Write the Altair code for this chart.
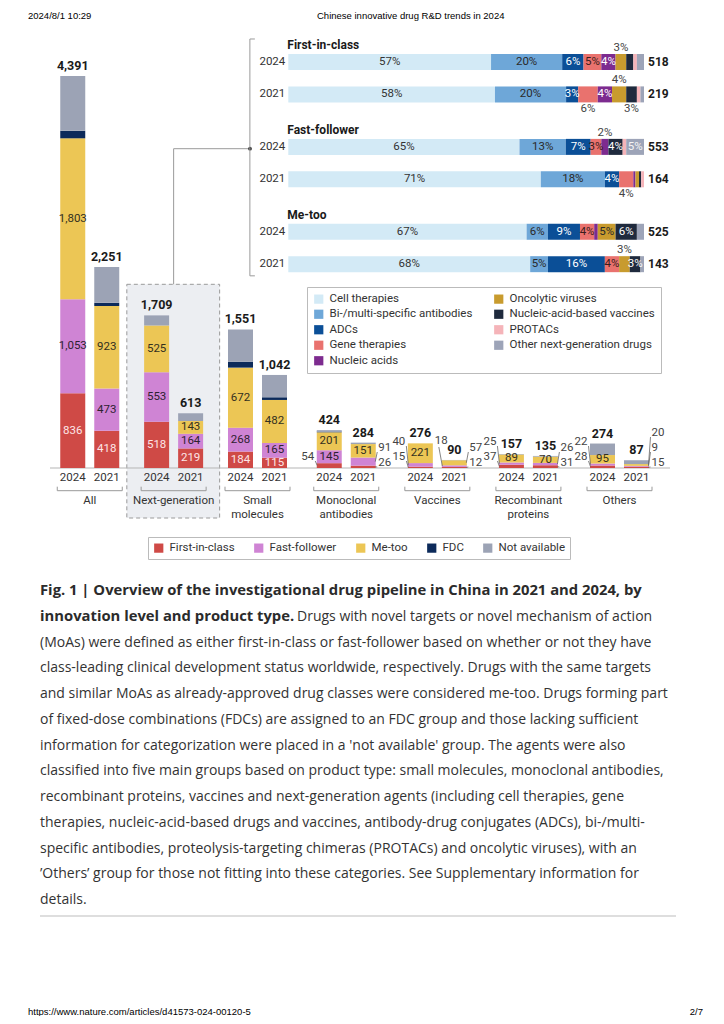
import altair as alt
import pandas as pd

FONT = "Roboto"
CAP_FONT = "Open Sans"
HDR_FONT = "Liberation Sans"

# ---------------- data: left stacked bars ----------------
groups = ["All", "Next-generation", "Small molecules", "Monoclonal antibodies",
          "Vaccines", "Recombinant proteins", "Others"]
group_lines = [["All"], ["Next-generation"], ["Small", "molecules"], ["Monoclonal", "antibodies"],
               ["Vaccines"], ["Recombinant", "proteins"], ["Others"]]
years = ["2024", "2021"]
levels = ["First-in-class", "Fast-follower", "Me-too", "FDC", "Not available"]
level_colors = ["#cf4a46", "#cf84d4", "#ecc655", "#0c2a5a", "#9ca3b5"]
level_text = ["#fde6e6", "#2e2230", "#33301f"]

# bar order: All 2024, All 2021, Next-gen 2024, Next-gen 2021, ...
first_in_class = [836, 418, 518, 219, 184, 115, 54, 26, 15, 12, 37, 31, 28, 15]
fast_follower = [1053, 473, 553, 164, 268, 165, 145, 91, 40, 18, 25, 26, 22, 9]
me_too = [1803, 923, 525, 143, 672, 482, 201, 151, 221, 57, 89, 70, 95, 20]
fdc = [84, 36, 0, 0, 65, 30, 8, 0, 0, 0, 0, 0, 0, 0]
not_available = [615, 401, 113, 87, 362, 250, 16, 16, 0, 3, 6, 8, 129, 43]
totals = [4391, 2251, 1709, 613, 1551, 1042, 424, 284, 276, 90, 157, 135, 274, 87]

# small values written outside the bar: (bar, level index, side, tier)
callouts = [
    (6, 0, "left", 0),
    (7, 0, "right", 0), (7, 1, "right", 1),
    (8, 0, "left", 0), (8, 1, "left", 1),
    (9, 0, "right", 0), (9, 2, "right", 1), (9, 1, "top", 1),
    (10, 0, "left", 0), (10, 1, "left", 1),
    (11, 0, "right", 0), (11, 1, "right", 1),
    (12, 0, "left", 0), (12, 1, "left", 1),
    (13, 0, "right", 0), (13, 1, "right", 1), (13, 2, "right", 2),
]

# ---------------- data: next-generation modality shares ----------------
ng_levels = ["First-in-class", "Fast-follower", "Me-too"]
ng_totals = [518, 219, 553, 164, 525, 143]
modalities = ["Cell therapies", "Bi-/multi-specific antibodies", "ADCs", "Gene therapies",
              "Nucleic acids", "Oncolytic viruses", "Nucleic-acid-based vaccines", "PROTACs",
              "Other next-generation drugs"]
modality_colors = ["#d3eaf6", "#6ea7d8", "#0b4f97", "#e9726e", "#7d2b8f",
                   "#c89b2e", "#1f2a3d", "#f5b4b9", "#9da4b8"]
modality_text = ["#333333", "#2a2a2a", "#ffffff", "#3a1c1c", "#ffffff",
                 "#2a2a2a", "#ffffff", "#333333", "#f4f4f4"]
pct_rows = [
    [57, 20, 6, 5, 4, 3, 2, 1, 2],          # First-in-class 2024
    [58.1, 20, 3.4, 5.5, 4, 4, 3, 1, 1],    # First-in-class 2021
    [65, 13, 7, 3, 2, 0, 4, 1, 5],          # Fast-follower 2024
    [71, 18, 4, 4, 0.6, 1, 0.6, 0.8, 0],    # Fast-follower 2021
    [67, 6, 9, 4, 1, 5, 6, 0, 2],           # Me-too 2024
    [68, 5, 16, 4, 0, 3, 3, 0, 1],          # Me-too 2021
]
# label placement per segment: i inside, a above, b below, - none
pct_labels = ["iiiiia---", "iiibiab--", "iiiia-i-i", "iiib-----", "iiii-ii--", "iiii-ai--"]

caption_bold = ["Fig. 1 | Overview of the investigational drug pipeline in China in 2021 and 2024, by",
                "innovation level and product type."]
caption_rest_line2 = "Drugs with novel targets or novel mechanism of action"
caption_lines = [
    "(MoAs) were defined as either first-in-class or fast-follower based on whether or not they have",
    "class-leading clinical development status worldwide, respectively. Drugs with the same targets",
    "and similar MoAs as already-approved drug classes were considered me-too. Drugs forming part",
    "of fixed-dose combinations (FDCs) are assigned to an FDC group and those lacking sufficient",
    "information for categorization were placed in a 'not available' group. The agents were also",
    "classified into five main groups based on product type: small molecules, monoclonal antibodies,",
    "recombinant proteins, vaccines and next-generation agents (including cell therapies, gene",
    "therapies, nucleic-acid-based drugs and vaccines, antibody-drug conjugates (ADCs), bi-/multi-",
    "specific antibodies, proteolysis-targeting chimeras (PROTACs) and oncolytic viruses), with an",
    "\u2019Others\u2019 group for those not fitting into these categories. See Supplementary information for",
    "details.",
]
header_left = "2024/8/1 10:29"
header_title = "Chinese innovative drug R&D trends in 2024"
footer_left = "https://www.nature.com/articles/d41573-024-00120-5"
footer_right = "2/7"

# ---------------- scales (pixel ranges) ----------------
LXD = [0, 2, 3, 6]                      # piecewise group-index domain
LXR = [81.75, 249.5, 338.25, 611.5]     # matching pixel range
LX = alt.Scale(domain=LXD, range=LXR, nice=False, zero=False)
LY = alt.Scale(domain=[0, 5000], range=[460, 13.5], nice=False, zero=False)
RX = alt.Scale(domain=[0, 100], range=[280.3, 636], nice=False, zero=False)
RY = alt.Scale(domain=[0, 1], range=[54, 86.4], nice=False, zero=False)
CY = alt.Scale(domain=[0, 12], range=[583, 892], nice=False, zero=False)

PXV = (460 - 13.5) / 5000     # px per drug count
HALF_PX = 12.5
OFF_PX = 17
GSTEP = 2.62                  # row units between sections (right panel)
RH = 0.247                    # half bar height in row units


def _interp(v, xs, ys):
    # piecewise linear with extrapolation on the end pieces (like the scale)
    for i in range(len(xs) - 1):
        if v <= xs[i + 1] or i == len(xs) - 2:
            if v >= xs[i] or i == 0:
                t = (v - xs[i]) / (xs[i + 1] - xs[i])
                return ys[i] + t * (ys[i + 1] - ys[i])
    return ys[-1]


def gpx(g):       # group units -> px
    return _interp(g, LXD, LXR)


def gu(p):        # px -> group units
    return _interp(p, LXR, LXD)


def px(v):        # pixels -> count units
    return v / PXV


# ---------------- build left tables ----------------
seg = []
bar_px = {}
for gi in range(len(groups)):
    for yi in range(2):
        b = 2 * gi + yi
        cp = gpx(gi) + (-OFF_PX if yi == 0 else OFF_PX)
        bar_px[b] = cp
        vals = [first_in_class[b], fast_follower[b], me_too[b], fdc[b], not_available[b]]
        cum = 0
        for li, v in enumerate(vals):
            if v > 0:
                seg.append(dict(b=b, li=li, level=levels[li], v=v, x0=gu(cp - HALF_PX),
                                x1=gu(cp + HALF_PX), xc=gu(cp), y0=cum, y1=cum + v,
                                ym=cum + v / 2))
            cum += v
seg = pd.DataFrame(seg)

co_keys = {(b, li) for b, li, _, _ in callouts}
inside = seg[(seg.li <= 2) & [(b, li) not in co_keys for b, li in zip(seg.b, seg.li)]].copy()
inside["label"] = [f"{v:,}" for v in inside.v]
inside["tc"] = [level_text[li] for li in inside.li]

co_rows, lead_rows = [], []
for b, li, side, tier in callouts:
    r = seg[(seg.b == b) & (seg.li == li)].iloc[0]
    left_px, right_px = bar_px[b] - HALF_PX, bar_px[b] + HALF_PX
    if side == "left":
        ly = px(11 + 15 * tier)
        lx = gu(left_px - 2.5)
        lead_rows.append(dict(xa=gu(left_px - 1.5), ya=ly - px(4), xb=gu(left_px + 0.5), yb=r.ym))
    elif side == "top":
        ly = px(12 + 15 * tier)
        lx = gu(left_px - 7)
        lead_rows.append(dict(xa=gu(left_px - 3), ya=ly - px(6), xb=gu(left_px + 0.5), yb=r.ym))
    else:
        ly = px(5 + 15 * tier)
        lx = gu(right_px + 2.5)
        lead_rows.append(dict(xa=gu(right_px - 0.5), ya=r.ym, xb=gu(right_px + 1.5), yb=ly - px(4)))
    co_rows.append(dict(side=side, x=lx, y=ly, label=f"{r.v:,}"))
co = pd.DataFrame(co_rows)
leads = pd.DataFrame(lead_rows)

bars = []
for gi in range(len(groups)):
    for yi in range(2):
        b = 2 * gi + yi
        bars.append(dict(xc=gu(bar_px[b]), total=totals[b],
                         tlabel=f"{totals[b]:,}", year=years[yi], ypos=px(-9.7)))
bars = pd.DataFrame(bars)

glab = []
for gi, lines in enumerate(group_lines):
    for k, t in enumerate(lines):
        glab.append(dict(x=gi, y=px(-32.7 - 14.3 * k), text=t))
glab = pd.DataFrame(glab)

brk_h = pd.DataFrame([dict(xa=gu(gpx(gi) - 32.5), xb=gu(gpx(gi) + 32.5), ya=px(-22.7), yb=px(-22.7))
                      for gi in range(len(groups))])
brk_v = pd.DataFrame([dict(xa=gu(gpx(gi) + s * 32.5), xb=gu(gpx(gi) + s * 32.5),
                           ya=px(-22.7), yb=px(-18.7))
                      for gi in range(len(groups)) for s in (-1, 1)])

ngi = groups.index("Next-generation")
hl = pd.DataFrame([dict(x0=gu(gpx(ngi) - 46.8), x1=gu(gpx(ngi) + 46.0), y0=px(-50), y1=px(183.7))])
conn = pd.DataFrame([
    dict(xa=ngi, xb=ngi, ya=px(183.7), yb=px(319.3)),
    dict(xa=ngi, xb=gu(242), ya=px(319.3), yb=px(319.3)),
])
dot = pd.DataFrame([dict(x=gu(242), y=px(319.3))])
base = pd.DataFrame([dict(xa=gu(42), xb=gu(662), y=0)])

# ---------------- build right tables ----------------
hseg, hlab = [], []
for ri, row in enumerate(pct_rows):
    gi, yi = ri // 2, ri % 2
    r = gi * GSTEP + yi
    cum = 0
    for mi, p in enumerate(row):
        if p > 0:
            hseg.append(dict(modality=modalities[mi], x0=cum, x1=cum + p, ya=r - RH, yb=r + RH))
            kind = pct_labels[ri][mi]
            if kind != "-":
                yy = r if kind == "i" else (r - 0.43 if kind == "a" else r + 0.45)
                tc = modality_text[mi] if kind == "i" else "#444444"
                hlab.append(dict(x=cum + p / 2, y=yy, label=f"{round(p)}%", tc=tc))
        cum += p
hseg = pd.DataFrame(hseg)
hlab = pd.DataFrame(hlab)

rows_meta = pd.DataFrame([dict(r=(ri // 2) * GSTEP + ri % 2, year=years[ri % 2],
                               total=str(ng_totals[ri]), x0=0, x1=100)
                          for ri in range(6)])
sect = pd.DataFrame([dict(r=gi * GSTEP - 0.53, text=t, x=0) for gi, t in enumerate(ng_levels)])
rbr = pd.DataFrame([
    dict(xa=-10.8, xb=-10.8, ya=-0.71, yb=6.6),
    dict(xa=-10.8, xb=-9.4, ya=-0.71, yb=-0.71),
    dict(xa=-10.8, xb=-9.4, ya=6.6, yb=6.6),
])

cap_b = pd.DataFrame([dict(line=i, text=t) for i, t in enumerate(caption_bold)])
cap_r2 = pd.DataFrame([dict(line=1, text=caption_rest_line2)])
cap_n = pd.DataFrame([dict(line=i + 2, text=t) for i, t in enumerate(caption_lines)])

# ---------------- layers ----------------
def X(f, s):
    return alt.X(f, type="quantitative", scale=s, axis=None)


def Y(f, s):
    return alt.Y(f, type="quantitative", scale=s, axis=None)


layers = []

layers.append(alt.Chart(hl).mark_rect(fill="#eceef2", stroke="#9a9a9a", strokeDash=[4, 3],
                                      strokeWidth=1).encode(
    x=X("x0", LX), x2="x1", y=Y("y0", LY), y2="y1"))
layers.append(alt.Chart(conn).mark_rule(color="#9a9a9a", strokeWidth=1).encode(
    x=X("xa", LX), x2="xb", y=Y("ya", LY), y2="yb"))
layers.append(alt.Chart(dot).mark_circle(size=14, color="#333333", opacity=1).encode(
    x=X("x", LX), y=Y("y", LY)))
layers.append(alt.Chart(base).mark_rule(color="#b5b5b5", strokeWidth=1).encode(
    x=X("xa", LX), x2="xb", y=Y("y", LY)))

layers.append(alt.Chart(seg).mark_rect().encode(
    x=X("x0", LX), x2="x1", y=Y("y0", LY), y2="y1",
    color=alt.Color("level:N", scale=alt.Scale(domain=levels, range=level_colors),
                    legend=alt.Legend(title=None, orient="none", legendX=140, legendY=529,
                                      direction="horizontal", columns=5, symbolType="square",
                                      symbolSize=85, symbolStrokeWidth=0, labelFont=FONT,
                                      labelFontSize=11.5, labelColor="#333333", labelOffset=5,
                                      columnPadding=18, padding=5, strokeColor="#bbbbbb",
                                      labelLimit=200))))

layers.append(alt.Chart(inside).mark_text(font=FONT, fontSize=11.5, baseline="middle").encode(
    x=X("xc", LX), y=Y("ym", LY), text="label:N", color=alt.Color("tc:N", scale=None)))
layers.append(alt.Chart(leads).mark_rule(color="#666666", strokeWidth=0.8).encode(
    x=X("xa", LX), x2="xb", y=Y("ya", LY), y2="yb"))
layers.append(alt.Chart(co[co.side == "left"]).mark_text(
    font=FONT, fontSize=11.5, align="right", baseline="middle", color="#444444").encode(
    x=X("x", LX), y=Y("y", LY), text="label:N"))
layers.append(alt.Chart(co[co.side != "left"]).mark_text(
    font=FONT, fontSize=11.5, align="left", baseline="middle", color="#444444").encode(
    x=X("x", LX), y=Y("y", LY), text="label:N"))
layers.append(alt.Chart(bars).mark_text(font=FONT, fontSize=12.5, fontWeight="bold",
                                        baseline="bottom", dy=-3, color="#1a1a1a").encode(
    x=X("xc", LX), y=Y("total", LY), text="tlabel:N"))
layers.append(alt.Chart(bars).mark_text(font=FONT, fontSize=11.5, baseline="middle",
                                        color="#333333").encode(
    x=X("xc", LX), y=Y("ypos", LY), text="year:N"))
layers.append(alt.Chart(brk_h).mark_rule(color="#999999", strokeWidth=1).encode(
    x=X("xa", LX), x2="xb", y=Y("ya", LY), y2="yb"))
layers.append(alt.Chart(brk_v).mark_rule(color="#999999", strokeWidth=1).encode(
    x=X("xa", LX), x2="xb", y=Y("ya", LY), y2="yb"))
layers.append(alt.Chart(glab).mark_text(font=FONT, fontSize=11.5, baseline="middle",
                                        color="#333333").encode(
    x=X("x", LX), y=Y("y", LY), text="text:N"))

# right panel
layers.append(alt.Chart(rbr).mark_rule(color="#9a9a9a", strokeWidth=1).encode(
    x=X("xa", RX), x2="xb", y=Y("ya", RY), y2="yb"))
layers.append(alt.Chart(hseg).mark_rect().encode(
    x=X("x0", RX), x2="x1", y=Y("ya", RY), y2="yb",
    color=alt.Color("modality:N", scale=alt.Scale(domain=modalities, range=modality_colors),
                    legend=alt.Legend(title=None, orient="none", legendX=299, legendY=279,
                                      columns=2, symbolType="square", symbolSize=85,
                                      symbolStrokeWidth=0, labelFont=FONT, labelFontSize=11.5,
                                      labelColor="#333333", labelOffset=5, columnPadding=20,
                                      rowPadding=2.5, padding=6, strokeColor="#bbbbbb",
                                      labelLimit=250))))
layers.append(alt.Chart(hlab).mark_text(font=FONT, fontSize=11.5, baseline="middle").encode(
    x=X("x", RX), y=Y("y", RY), text="label:N", color=alt.Color("tc:N", scale=None)))
layers.append(alt.Chart(sect).mark_text(font=FONT, fontSize=12, fontWeight="bold", align="left",
                                        baseline="middle", dx=-1, color="#1a1a1a").encode(
    x=X("x", RX), y=Y("r", RY), text="text:N"))
layers.append(alt.Chart(rows_meta).mark_text(font=FONT, fontSize=11.5, align="right",
                                             baseline="middle", dx=-3, color="#333333").encode(
    x=X("x0", RX), y=Y("r", RY), text="year:N"))
layers.append(alt.Chart(rows_meta).mark_text(font=FONT, fontSize=12, fontWeight="bold",
                                             align="left", baseline="middle", dx=4,
                                             color="#1a1a1a").encode(
    x=X("x1", RX), y=Y("r", RY), text="total:N"))

# caption
layers.append(alt.Chart(cap_b).mark_text(font=CAP_FONT, fontSize=14.8, fontWeight="bold",
                                         align="left", baseline="middle", color="#2b2b2b").encode(
    x=alt.value(32), y=Y("line", CY), text="text:N"))
layers.append(alt.Chart(cap_r2).mark_text(font=CAP_FONT, fontSize=14.0, align="left",
                                          baseline="middle", color="#333333").encode(
    x=alt.value(289), y=Y("line", CY), text="text:N"))
layers.append(alt.Chart(cap_n).mark_text(font=CAP_FONT, fontSize=14.0, align="left",
                                         baseline="middle", color="#333333").encode(
    x=alt.value(32), y=Y("line", CY), text="text:N"))
layers.append(alt.Chart(pd.DataFrame([dict(a=1)])).mark_rule(color="#bdbdbd", strokeWidth=1).encode(
    x=alt.value(32), x2=alt.value(668), y=alt.value(908)))

# page header/footer
page = pd.DataFrame([dict(a=1)])
layers.append(alt.Chart(page).mark_text(font=HDR_FONT, fontSize=9.5, align="left",
                                        baseline="middle", color="#000000").encode(
    x=alt.value(20), y=alt.value(8), text=alt.value(header_left)))
layers.append(alt.Chart(page).mark_text(font=HDR_FONT, fontSize=9.5, align="left",
                                        baseline="middle", color="#000000").encode(
    x=alt.value(309), y=alt.value(8), text=alt.value(header_title)))
layers.append(alt.Chart(page).mark_text(font=HDR_FONT, fontSize=9.5, align="left",
                                        baseline="middle", color="#000000").encode(
    x=alt.value(20), y=alt.value(1004), text=alt.value(footer_left)))
layers.append(alt.Chart(page).mark_text(font=HDR_FONT, fontSize=9.5, align="right",
                                        baseline="middle", color="#000000").encode(
    x=alt.value(695), y=alt.value(1004), text=alt.value(footer_right)))

chart = alt.layer(*layers).resolve_scale(
    x="independent", y="independent", color="independent"
).properties(
    width=708, height=1008, padding=0,
    autosize=alt.AutoSizeParams(type="none"),
    background="white",
).configure_view(stroke=None)

chart.save("out.html", embed_options={"renderer": "svg", "actions": False})
